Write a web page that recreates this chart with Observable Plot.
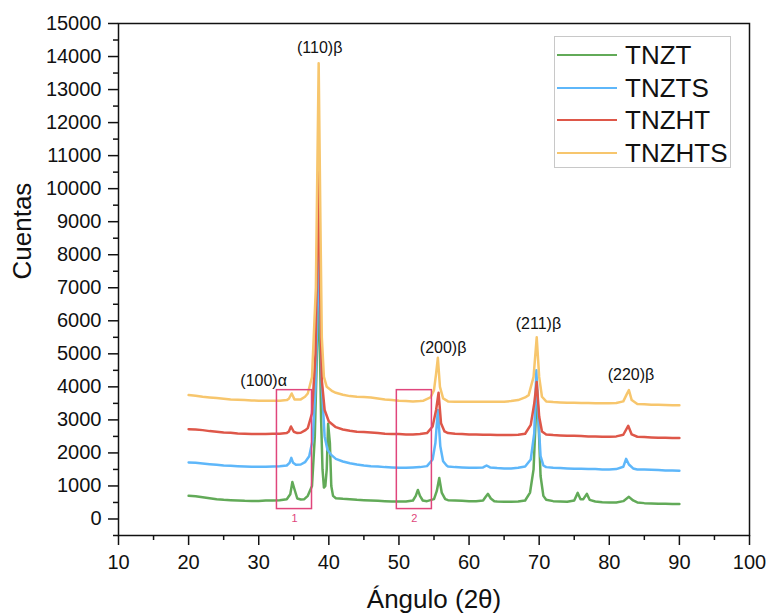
<!DOCTYPE html>
<html>
<head>
<meta charset="utf-8">
<script src="https://cdn.jsdelivr.net/npm/d3@7"></script>
<script src="https://cdn.jsdelivr.net/npm/@observablehq/plot@0.6"></script>
<style>
  html, body { margin: 0; padding: 0; background: #fff; }
  #wrap { position: relative; width: 769px; height: 614px; font-family: "Liberation Sans", Arial, sans-serif; }
  #legend { position: absolute; left: 554px; top: 36px; width: 177px; height: 132px; border: 1px solid #c8c8c8; box-sizing: border-box; background: #fff; }
  .row { position: absolute; left: 2px; height: 30px; display: flex; align-items: center; }
  .sw { width: 60px; height: 2px; margin-right: 8px; }
  .lab { font-size: 26px; color: #111; line-height: 30px; }
</style>
</head>
<body>
<div id="wrap"><div id="chart"></div><div id="legend"></div></div>
<script>
// ---- data ----
const seriesNames = ["TNZT", "TNZTS", "TNZHT", "TNZHTS"];
const seriesColors = ["#62aa58", "#5eb7fa", "#de5749", "#f7c66d"];

const tnzt = [[20,700],[21,690],[22,660],[23,630],[24,600],[25,580],[26,570],[27,560],[28,550],[29,545],[30,545],[31,560],[32,560],[33,570],[34,600],[34.5,750],[34.8,1120],[35.1,900],[35.5,620],[36,590],[36.5,600],[37,700],[37.6,1000],[38.0,2500],[38.3,5000],[38.5,6500],[38.7,5500],[38.9,3000],[39.1,1500],[39.3,950],[39.5,1000],[39.7,1500],[39.9,2880],[40.15,2300],[40.35,1000],[40.6,700],[41,630],[42,610],[43,600],[44,580],[45,570],[46,560],[47,550],[48,540],[49,530],[50,530],[51,530],[52,560],[52.4,700],[52.7,880],[53.0,700],[53.4,560],[54,540],[55,600],[55.4,850],[55.75,1240],[56.1,800],[56.6,600],[57,570],[58,560],[59,550],[60,540],[61,540],[62,560],[62.4,680],[62.7,760],[63.1,620],[63.6,540],[64,530],[65,520],[66,520],[67,530],[68,560],[68.7,800],[69.2,1500],[69.5,3000],[69.7,3900],[69.9,3000],[70.2,1300],[70.6,700],[71,580],[72,540],[73,530],[74,520],[75,560],[75.5,790],[75.9,600],[76.3,600],[76.8,760],[77.2,580],[78,530],[79,510],[80,500],[81,500],[82,540],[82.8,670],[83.4,560],[84,500],[85,480],[86,470],[87,460],[88,460],[89,450],[90,450]];

const tnzts = [[20,1710],[21,1700],[22,1680],[23,1660],[24,1640],[25,1620],[26,1610],[27,1600],[28,1590],[29,1580],[30,1580],[31,1580],[32,1590],[33,1600],[34,1620],[34.4,1700],[34.65,1850],[34.9,1700],[35.3,1640],[36,1650],[36.6,1720],[37.2,1900],[37.7,2400],[38.1,4000],[38.4,6500],[38.6,8000],[38.8,6000],[39.0,4000],[39.4,2500],[39.8,2100],[40.3,1950],[41,1820],[42,1740],[43,1690],[44,1650],[45,1620],[46,1600],[47,1590],[48,1570],[49,1560],[50,1550],[51,1550],[52,1560],[53,1570],[54,1600],[54.8,1800],[55.2,2300],[55.55,3300],[55.9,2200],[56.3,1750],[56.8,1620],[57,1590],[58,1570],[59,1560],[60,1550],[61,1550],[62,1560],[62.5,1620],[63,1560],[64,1540],[65,1530],[66,1530],[67,1550],[68,1590],[68.8,1800],[69.3,2600],[69.6,4500],[69.9,3000],[70.2,1900],[70.6,1620],[71,1570],[72,1550],[73,1540],[74,1530],[75,1520],[76,1520],[77,1510],[78,1510],[79,1500],[80,1500],[81,1510],[82,1580],[82.4,1820],[82.8,1650],[83.4,1530],[84,1500],[85,1500],[86,1490],[87,1480],[88,1470],[89,1470],[90,1460]];

const tnzht = [[20,2720],[21,2710],[22,2690],[23,2660],[24,2640],[25,2620],[26,2610],[27,2590],[28,2580],[29,2570],[30,2570],[31,2570],[32,2580],[33,2580],[34,2600],[34.3,2650],[34.6,2800],[35,2640],[35.5,2600],[36,2610],[36.6,2680],[37,2750],[37.6,3200],[38.1,5000],[38.5,10500],[38.75,7000],[39.0,4200],[39.4,3300],[40,2950],[41,2780],[42,2710],[43,2670],[44,2640],[45,2630],[46,2620],[47,2600],[48,2580],[49,2570],[50,2570],[51,2560],[52,2560],[53,2570],[54,2600],[54.8,2800],[55.3,3300],[55.65,3820],[56,2900],[56.5,2650],[57,2600],[58,2580],[59,2570],[60,2560],[61,2560],[62,2550],[63,2550],[64,2540],[65,2540],[66,2540],[67,2550],[68,2580],[68.8,2850],[69.3,3500],[69.65,4150],[70,3100],[70.4,2650],[71,2560],[72,2540],[73,2530],[74,2520],[75,2520],[76,2510],[77,2500],[78,2500],[79,2490],[80,2490],[81,2500],[82,2550],[82.7,2820],[83.2,2560],[84,2490],[85,2480],[86,2470],[87,2460],[88,2460],[89,2450],[90,2450]];

const tnzhts = [[20,3750],[21,3730],[22,3700],[23,3680],[24,3660],[25,3640],[26,3620],[27,3610],[28,3600],[29,3590],[30,3580],[31,3580],[32,3580],[33,3580],[34,3600],[34.3,3640],[34.7,3800],[35.1,3620],[36,3620],[36.6,3700],[37,3800],[37.6,4300],[38.15,7000],[38.55,13800],[38.8,9000],[39.0,5500],[39.3,4300],[39.7,4000],[40.5,3870],[41,3820],[42,3760],[43,3720],[44,3700],[45,3690],[46,3680],[47,3650],[48,3620],[49,3600],[50,3580],[51,3570],[52,3560],[53,3570],[53.5,3580],[54.5,3680],[55,3900],[55.3,4400],[55.55,4880],[55.85,4000],[56.3,3650],[57,3560],[58,3550],[59,3550],[60,3550],[61,3550],[62,3550],[63,3550],[64,3550],[65,3550],[66,3570],[67,3600],[68,3680],[68.5,3750],[69.2,4300],[69.65,5500],[70,4300],[70.4,3700],[71,3560],[72,3540],[73,3530],[74,3520],[75,3520],[76,3510],[77,3510],[78,3500],[79,3500],[80,3500],[81,3510],[82,3560],[82.5,3780],[82.8,3900],[83.2,3600],[84,3480],[85,3470],[86,3460],[87,3460],[88,3450],[89,3440],[90,3440]];

const seriesData = [tnzt, tnzts, tnzht, tnzhts];

const xTicks = [10, 20, 30, 40, 50, 60, 70, 80, 90, 100];
const xMinorTicks = [15, 25, 35, 45, 55, 65, 75, 85, 95];
const yTicks = [0, 1000, 2000, 3000, 4000, 5000, 6000, 7000, 8000, 9000, 10000, 11000, 12000, 13000, 14000, 15000];
const yMinorTicks = [-500, 500, 1500, 2500, 3500, 4500, 5500, 6500, 7500, 8500, 9500, 10500, 11500, 12500, 13500, 14500];

const peakLabels = ["(110)β", "(100)α", "(200)β", "(211)β", "(220)β"];
const peakLabelX = [38.7, 30.7, 56.3, 69.9, 83.1];
const peakLabelY = [14250, 4180, 5180, 5900, 4360];

const boxLabels = ["1", "2"];
const boxX1 = [32.6, 49.7];
const boxX2 = [37.6, 54.7];
const boxY1 = [300, 300];
const boxY2 = [3900, 3900];
const boxLabelY = [30, 30];

// ---- build table ----
const rows = [];
seriesData.forEach((arr, i) => arr.forEach(([x, y]) => rows.push({x, y, s: seriesNames[i]})));
const peaks = peakLabels.map((t, i) => ({t, x: peakLabelX[i], y: peakLabelY[i]}));
const boxes = boxLabels.map((t, i) => ({t, x1: boxX1[i], x2: boxX2[i], y1: boxY1[i], y2: boxY2[i], ly: boxLabelY[i]}));

const pink = "#e0467c";

const chart = Plot.plot({
  width: 769,
  height: 614,
  marginLeft: 118,
  marginRight: 20,
  marginTop: 23,
  marginBottom: 79,
  style: {fontFamily: "'Liberation Sans', Arial, sans-serif", fontSize: "20px", color: "#111", background: "#fff"},
  x: {domain: [10, 100]},
  y: {domain: [-500, 15000]},
  color: {domain: seriesNames, range: seriesColors},
  marks: [
    Plot.axisY(yTicks, {tickSize: 10, tickPadding: 7, strokeWidth: 1.5, stroke: "#111", label: null, tickFormat: d => String(d)}),
    Plot.axisY(yMinorTicks, {tickSize: 5, text: null, strokeWidth: 1.5, stroke: "#111", label: null}),
    Plot.axisX(xTicks, {tickSize: 10, tickPadding: 9, strokeWidth: 1.5, stroke: "#111", label: null}),
    Plot.axisX(xMinorTicks, {tickSize: 5, text: null, strokeWidth: 1.5, stroke: "#111", label: null}),
    Plot.line(rows, {x: "x", y: "y", z: "s", stroke: "s", strokeWidth: 2.5, curve: "linear"}),
    Plot.rect(boxes, {x1: "x1", x2: "x2", y1: "y1", y2: "y2", fill: "none", stroke: pink, strokeWidth: 1.5}),
    Plot.text(boxes, {x: d => (d.x1 + d.x2) / 2, y: "ly", text: "t", fill: pink, fontSize: 11}),
    Plot.text(peaks, {x: "x", y: "y", text: "t", fill: "#111", fontSize: 16}),
    Plot.frame({stroke: "#111", strokeWidth: 1.5}),
    Plot.text(["Cuentas"], {frameAnchor: "left", dx: -96, rotate: -90, text: d => d, fontSize: 26, fill: "#111"}),
    Plot.text(["Ángulo (2θ)"], {frameAnchor: "bottom", dy: 72, text: d => d, fontSize: 26, fill: "#111"})
  ]
});
document.getElementById("chart").appendChild(chart);

// ---- legend inside plot ----
const legend = document.getElementById("legend");
seriesNames.forEach((name, i) => {
  const r = document.createElement("div");
  r.className = "row";
  r.style.top = (3 + i * 32.5) + "px";
  const sw = document.createElement("div");
  sw.className = "sw";
  sw.style.background = seriesColors[i];
  const lab = document.createElement("span");
  lab.className = "lab";
  lab.textContent = name;
  r.appendChild(sw); r.appendChild(lab);
  legend.appendChild(r);
});
</script>
</body>
</html>
